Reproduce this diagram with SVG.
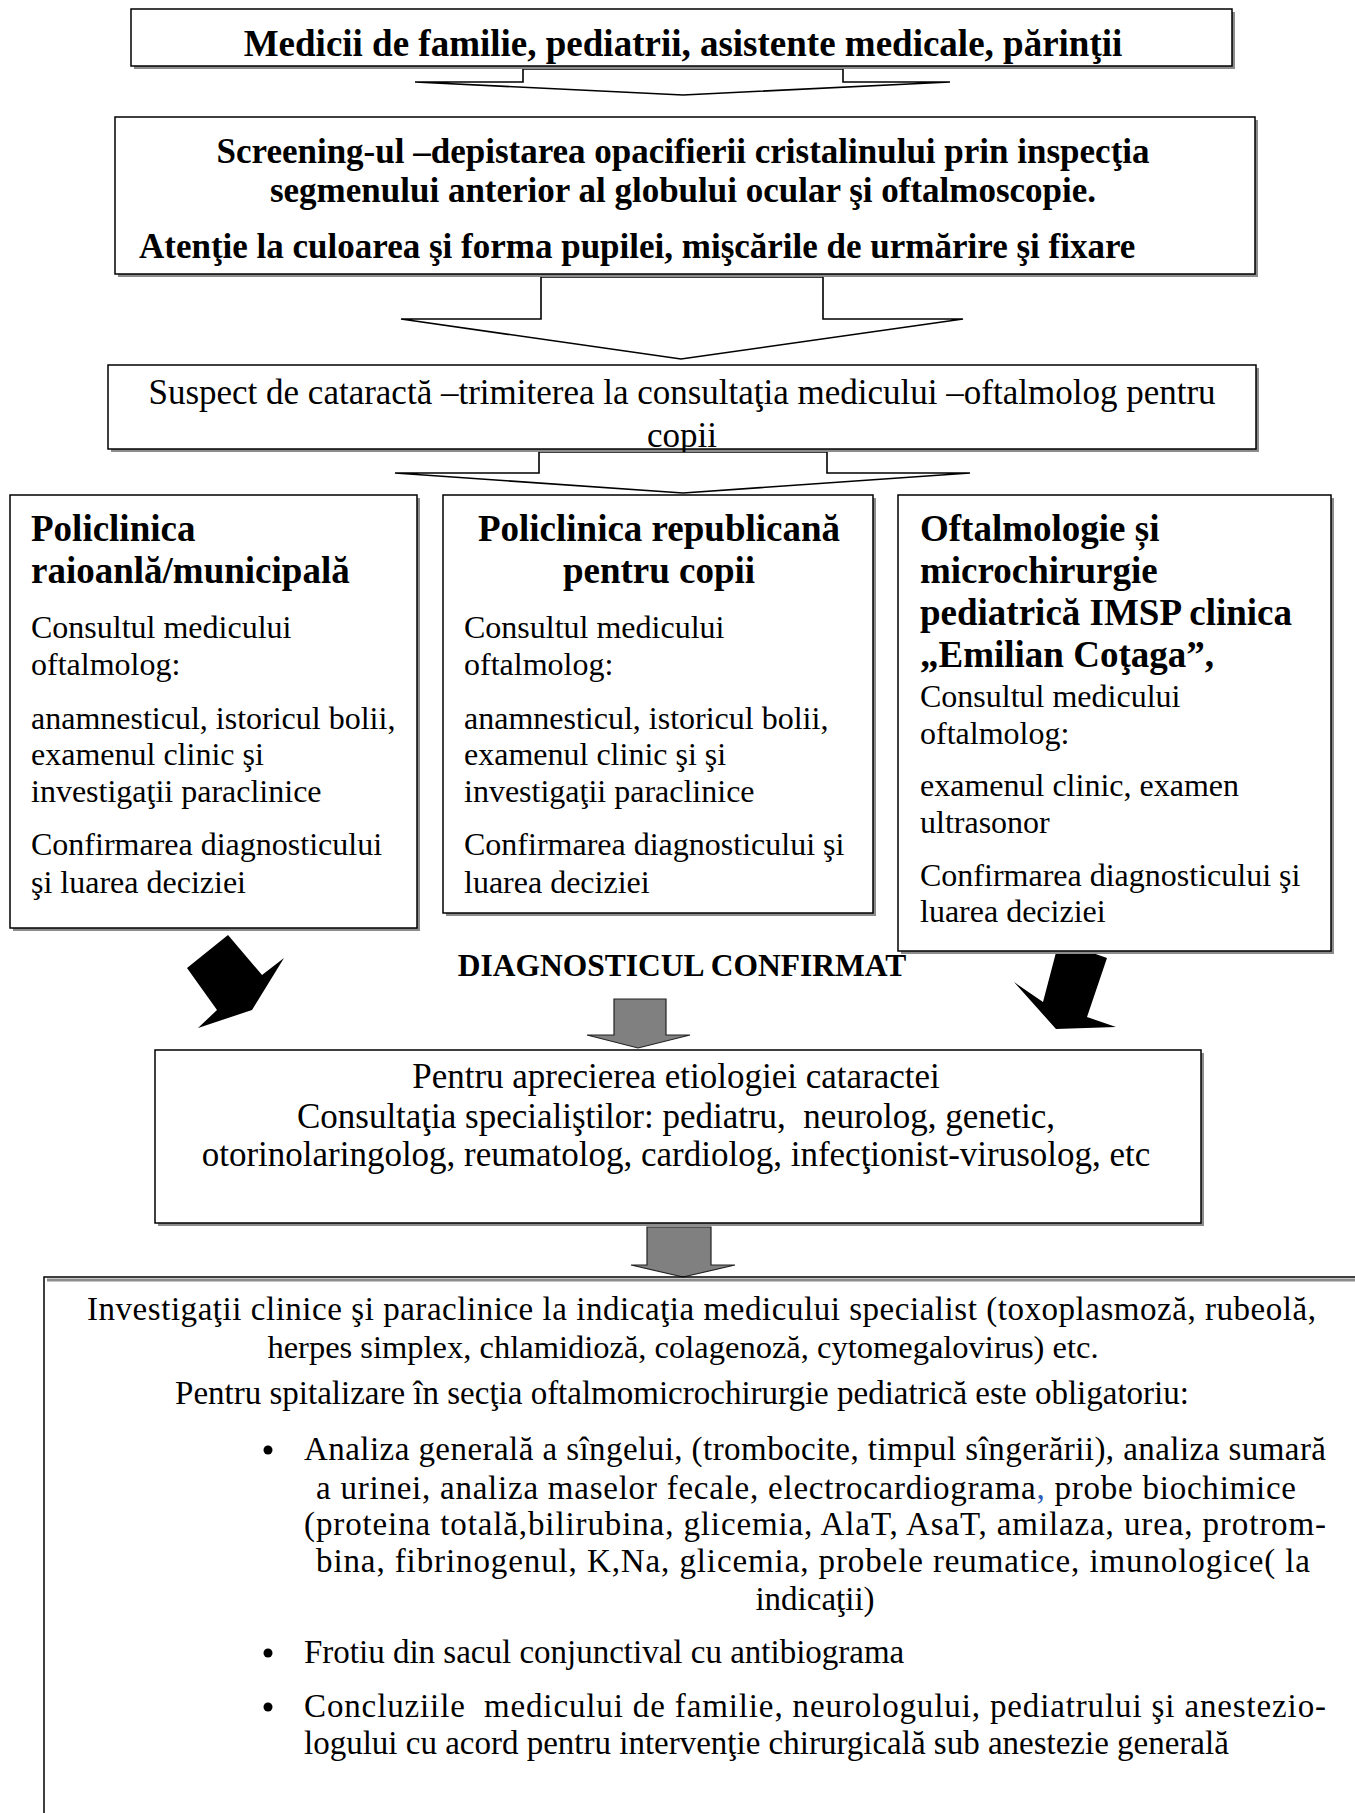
<svg xmlns="http://www.w3.org/2000/svg" width="1355" height="1813" viewBox="0 0 1355 1813">
<defs>
<style>
.b{font-family:"Liberation Serif","Times New Roman",serif;font-weight:bold;fill:#000}
.r{font-family:"Liberation Serif","Times New Roman",serif;fill:#000}
.box{fill:#fff;stroke:#000;stroke-width:1.5}
.sh{fill:#8c8c8c}
.out{fill:#fff;stroke:#000;stroke-width:1.6;stroke-linejoin:miter}
.blk{fill:#000}
.gray{fill:#808080;stroke:#222;stroke-width:1.2}
.c{text-anchor:middle}
</style>
<clipPath id="clip3"><rect x="108" y="365" width="1151" height="87"/></clipPath>
</defs>
<rect width="1355" height="1813" fill="#fff"/>

<g id="connectors">
<polygon class="out" points="523,69 523,82 415,82 683,95 950,82 843,82 843,69"/>
<polygon class="out" points="541,277 541,319 401,319 681,359 963,319 823,319 823,277"/>
<polygon class="out" points="539,452 539,473 395,473 683,493 970,473 827,473 827,452"/>
<polygon class="blk" points="228,935 262,975 284,958 252,1010 198,1028 217,1010 187,968"/>
<polygon class="blk" points="1059,941 1107,958 1087,1017 1116,1027 1056,1029 1014,982 1043,1002"/>
<polygon class="gray" points="614,999 666,999 666,1035 690,1035 638,1048 587,1035 614,1035"/>
<polygon class="gray" points="647,1227 711,1227 711,1265 735,1265 683,1277 631,1265 647,1265"/>
</g>

<g id="n1">
<rect class="sh" x="134" y="12" width="1101" height="57"/>
<rect class="box" x="131" y="9" width="1101" height="57"/>
<text class="b c" x="683" y="56" font-size="37">Medicii de familie, pediatrii, asistente medicale, părinţii</text>
</g>

<g id="n2">
<rect class="sh" x="118" y="120" width="1140" height="157"/>
<rect class="box" x="115" y="117" width="1140" height="157"/>
<text class="b c" x="683" y="163" font-size="35">Screening-ul –depistarea opacifierii cristalinului prin inspecţia</text>
<text class="b c" x="683" y="202" font-size="35">segmenului anterior al globului ocular şi oftalmoscopie.</text>
<text class="b" x="139" y="258" font-size="35">Atenţie la culoarea şi forma pupilei, mişcările de urmărire şi fixare</text>
</g>

<g id="n3">
<rect class="sh" x="111" y="368" width="1148" height="84"/>
<rect class="box" x="108" y="365" width="1148" height="84"/>
<g clip-path="url(#clip3)">
<text class="r c" x="682" y="404" font-size="35">Suspect de cataractă –trimiterea la consultaţia medicului –oftalmolog pentru</text>
<text class="r c" x="682" y="447" font-size="35">copii</text>
</g>
</g>

<g id="n4a">
<rect class="sh" x="13" y="498" width="407" height="433"/>
<rect class="box" x="10" y="495" width="407" height="433"/>
<text class="b" x="31" y="541" font-size="37">Policlinica</text>
<text class="b" x="31" y="583" font-size="37">raioanlă/municipală</text>
<text class="r" x="31" y="638" font-size="32">Consultul medicului</text>
<text class="r" x="31" y="675" font-size="32">oftalmolog:</text>
<text class="r" x="31" y="729" font-size="32">anamnesticul, istoricul bolii,</text>
<text class="r" x="31" y="765" font-size="32">examenul clinic şi</text>
<text class="r" x="31" y="802" font-size="32">investigaţii paraclinice</text>
<text class="r" x="31" y="855" font-size="32">Confirmarea diagnosticului</text>
<text class="r" x="31" y="893" font-size="32">şi luarea deciziei</text>
</g>

<g id="n4b">
<rect class="sh" x="446" y="498" width="430" height="418"/>
<rect class="box" x="443" y="495" width="430" height="418"/>
<text class="b c" x="659" y="541" font-size="37">Policlinica republicană</text>
<text class="b c" x="659" y="583" font-size="37">pentru copii</text>
<text class="r" x="464" y="638" font-size="32">Consultul medicului</text>
<text class="r" x="464" y="675" font-size="32">oftalmolog:</text>
<text class="r" x="464" y="729" font-size="32">anamnesticul, istoricul bolii,</text>
<text class="r" x="464" y="765" font-size="32">examenul clinic şi şi</text>
<text class="r" x="464" y="802" font-size="32">investigaţii paraclinice</text>
<text class="r" x="464" y="855" font-size="32">Confirmarea diagnosticului şi</text>
<text class="r" x="464" y="893" font-size="32">luarea deciziei</text>
</g>

<g id="n4c">
<rect class="sh" x="901" y="498" width="433" height="456"/>
<rect class="box" x="898" y="495" width="433" height="456"/>
<text class="b" x="920" y="541" font-size="37">Oftalmologie și</text>
<text class="b" x="920" y="583" font-size="37">microchirurgie</text>
<text class="b" x="920" y="625" font-size="37">pediatrică IMSP clinica</text>
<text class="b" x="920" y="667" font-size="37">„Emilian Coţaga”,</text>
<text class="r" x="920" y="707" font-size="32">Consultul medicului</text>
<text class="r" x="920" y="744" font-size="32">oftalmolog:</text>
<text class="r" x="920" y="796" font-size="32">examenul clinic, examen</text>
<text class="r" x="920" y="833" font-size="32">ultrasonor</text>
<text class="r" x="920" y="886" font-size="32">Confirmarea diagnosticului şi</text>
<text class="r" x="920" y="922" font-size="32">luarea deciziei</text>
</g>

<g id="label">
<text class="b c" x="682" y="976" font-size="31.5">DIAGNOSTICUL CONFIRMAT</text>
</g>

<g id="n5">
<rect class="sh" x="158" y="1053" width="1046" height="173"/>
<rect class="box" x="155" y="1050" width="1046" height="173"/>
<text class="r c" x="676" y="1088" font-size="35">Pentru aprecierea etiologiei cataractei</text>
<text class="r c" x="676" y="1128" font-size="35">Consultaţia specialiştilor: pediatru,&#160; neurolog, genetic,</text>
<text class="r c" x="676" y="1166" font-size="35">otorinolaringolog, reumatolog, cardiolog, infecţionist-virusolog, etc</text>
</g>

<g id="n6">
<path d="M47,1280 H1355" stroke="#8c8c8c" stroke-width="3" fill="none"/>
<path d="M44,1813 V1277 H1355" stroke="#000" stroke-width="1.5" fill="none"/>
<text class="r" x="87" y="1320" font-size="33" textLength="1229" lengthAdjust="spacing">Investigaţii clinice şi paraclinice la indicaţia medicului specialist (toxoplasmoză, rubeolă,</text>
<text class="r c" x="683" y="1358" font-size="32.5">herpes simplex, chlamidioză, colagenoză, cytomegalovirus) etc.</text>
<text class="r c" x="682" y="1404" font-size="33">Pentru spitalizare în secţia oftalmomicrochirurgie pediatrică este obligatoriu:</text>
<circle cx="268" cy="1450" r="4.5"/>
<text class="r" x="304" y="1460" font-size="33" textLength="1022" lengthAdjust="spacing">Analiza generală a sîngelui, (trombocite, timpul sîngerării), analiza sumară</text>
<text class="r" x="316" y="1499" font-size="33" textLength="980" lengthAdjust="spacing">a urinei, analiza maselor fecale, electrocardiograma<tspan fill="#2e5cb8">,</tspan> probe biochimice</text>
<text class="r" x="304" y="1535" font-size="33" textLength="1022" lengthAdjust="spacing">(proteina totală,bilirubina, glicemia, AlaT, AsaT, amilaza, urea, protrom-</text>
<text class="r" x="316" y="1572" font-size="33" textLength="994" lengthAdjust="spacing">bina, fibrinogenul, K,Na, glicemia, probele reumatice, imunologice( la</text>
<text class="r c" x="815" y="1610" font-size="33">indicaţii)</text>
<circle cx="268" cy="1653" r="4.5"/>
<text class="r" x="304" y="1663" font-size="33">Frotiu din sacul conjunctival cu antibiograma</text>
<circle cx="268" cy="1707" r="4.5"/>
<text class="r" x="304" y="1717" font-size="33" textLength="1022" lengthAdjust="spacing">Concluziile&#160; medicului de familie, neurologului, pediatrului şi anestezio-</text>
<text class="r" x="304" y="1754" font-size="33">logului cu acord pentru intervenţie chirurgicală sub anestezie generală</text>
</g>
</svg>
